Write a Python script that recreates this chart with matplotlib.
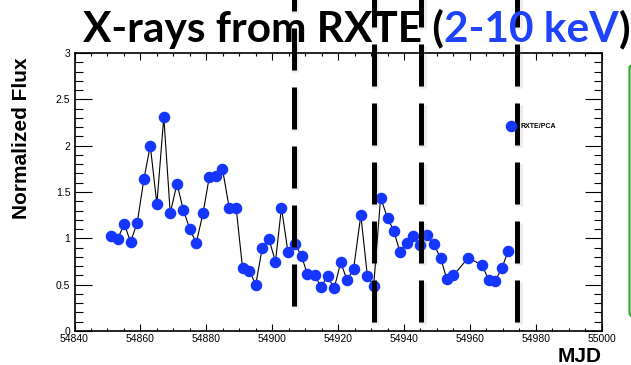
import matplotlib
matplotlib.use('Agg')
import matplotlib.pyplot as plt
from matplotlib.ticker import MultipleLocator
from matplotlib.patches import FancyBboxPatch
import matplotlib.patheffects as pe

# RXTE/PCA light curve
mjd = [54851.0, 54853.1, 54855.1, 54857.0, 54859.05, 54861.07, 54863.0, 54865.0,
       54867.1, 54869.06, 54871.1, 54873.0, 54875.0, 54876.95, 54879.0, 54880.9,
       54882.9, 54884.9, 54886.95, 54889.05, 54891.0, 54893.1, 54895.0, 54897.0,
       54899.0, 54901.0, 54902.8, 54904.8, 54906.9, 54908.9, 54910.7, 54912.9,
       54914.8, 54916.8, 54918.8, 54920.8, 54922.7, 54924.7, 54926.9, 54928.9,
       54930.8, 54932.9, 54935.0, 54936.9, 54938.8, 54940.8, 54942.8, 54944.8,
       54946.9, 54949.0, 54951.1, 54953.0, 54955.0, 54959.5, 54963.7, 54965.7,
       54967.7, 54969.7, 54971.6]
flux = [1.02, 0.99, 1.16, 0.96, 1.17, 1.64, 2.00, 1.37,
        2.31, 1.27, 1.59, 1.31, 1.10, 0.95, 1.27, 1.66,
        1.67, 1.75, 1.33, 1.33, 0.68, 0.65, 0.50, 0.90,
        0.99, 0.75, 1.33, 0.85, 0.94, 0.81, 0.61, 0.60,
        0.48, 0.59, 0.46, 0.74, 0.55, 0.67, 1.25, 0.59,
        0.49, 1.44, 1.22, 1.08, 0.85, 0.95, 1.03, 0.93,
        1.04, 0.94, 0.79, 0.56, 0.60, 0.79, 0.71, 0.55,
        0.54, 0.68, 0.86]

# dashed markers overlaid on the slide
event_mjd = [54906.5, 54930.8, 54945.3, 54974.3]
event_bottom = [0.27, 0.10, 0.10, 0.10]
event_top = 3.6

title_parts = [("X-rays from RXTE (", "black"), ("2-10 keV", "#1f42fb"), (")", "black")]

W, H = 631, 365
fig = plt.figure(figsize=(W / 100, H / 100), dpi=100)
ax = fig.add_axes([74.5 / W, 1 - 331 / H, 527.2 / W, 278 / H])

blue = '#1436ff'
ax.plot(mjd, flux, color='black', lw=0.8, zorder=2)
ax.plot(mjd, flux, ls='none', marker='o', ms=7.3, color=blue, mec=blue,
        label='RXTE/PCA', zorder=3)

ax.set_xlim(54840, 55000)
ax.set_ylim(0, 3)
ax.xaxis.set_major_locator(MultipleLocator(20))
ax.xaxis.set_minor_locator(MultipleLocator(5))
ax.yaxis.set_major_locator(MultipleLocator(0.5))
ax.yaxis.set_minor_locator(MultipleLocator(0.1))
ax.yaxis.set_major_formatter(plt.FuncFormatter(lambda v, p: f'{v:g}'))
ax.tick_params(axis='both', which='both', direction='in', top=True, right=True,
               labelsize=7.5, width=0.8, color='black')
ax.tick_params(axis='x', which='major', length=5, pad=2)
ax.tick_params(axis='x', which='minor', length=2.5)
ax.tick_params(axis='y', which='major', length=12, pad=3)
ax.tick_params(axis='y', which='minor', length=6)
for lab in ax.get_xticklabels() + ax.get_yticklabels():
    lab.set_family('Liberation Sans')
for s in ax.spines.values():
    s.set_linewidth(1.2)

leg = ax.legend(loc='center left', bbox_to_anchor=(0.815, 0.735), frameon=False,
                prop={'family': 'Liberation Sans', 'weight': 'bold', 'size': 5},
                handlelength=2, handletextpad=0.4, borderpad=0, borderaxespad=0)

# axis titles
fig.text(602 / W, 1 - 356 / H, 'MJD', ha='right', va='center', fontsize=15,
         fontweight='bold', family='Liberation Sans')
fig.text(22 / W, 1 - 138 / H, 'Normalized Flux', ha='center', va='center',
         rotation=90, fontsize=15, fontweight='bold', family='Liberation Sans')

# dashed vertical lines with soft shadow
for x, yb in zip(event_mjd, event_bottom):
    ln, = ax.plot([x, x], [yb, event_top], color='black', lw=3.6,
                  solid_capstyle='butt', dash_capstyle='butt', clip_on=False, zorder=5)
    ln.set_dashes((8.4, 3.4))
    ln.set_path_effects([pe.SimpleLineShadow(offset=(1.2, -1.5), alpha=0.15, shadow_color='gray',
                                             linewidth=5),
                         pe.Normal()])

# green box at right edge
fig.patches.append(FancyBboxPatch((629.5 / W, 1 - 318 / H), 60 / W, 256 / H,
                                  boxstyle='round,pad=0,rounding_size=0.015',
                                  transform=fig.transFigure, fill=False,
                                  edgecolor='#2aa52a', lw=1.5))

# title in pieces, fitted to the span seen on the slide
fig.canvas.draw()
r = fig.canvas.get_renderer()
x0, x1 = 83, 630
size = 27
texts = []
for t, c in title_parts:
    texts.append(fig.text(0, 0, t, fontsize=size, fontweight='bold', family='Lato', color=c))
tot = sum(tx.get_window_extent(r).width for tx in texts)
size = size * (x1 - x0) / tot
xc = x0
for tx in texts:
    tx.set_fontsize(size)
    tx.set_position((xc / W, 1 - 42 / H))
    tx.set_va('baseline')
    xc += tx.get_window_extent(r).width

fig.savefig('out.png', dpi=100)
